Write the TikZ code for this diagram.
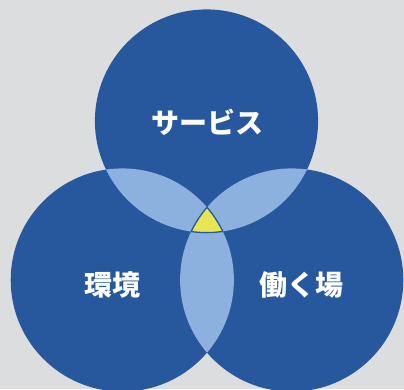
\documentclass[tikz,border=0pt]{standalone}
\usepackage{fontspec}
\newfontfamily\cjkfont{Noto Sans CJK JP}
\definecolor{bgc}{HTML}{DCDDDF}
\definecolor{dblue}{HTML}{27579C}
\definecolor{lblue}{HTML}{8DB1DE}
\definecolor{yel}{HTML}{E6E652}
\tikzset{
  lbl/.style={text=white, font=\cjkfont\bfseries\fontsize{28}{30}\selectfont, inner sep=0pt},
  rim/.style={dblue, line width=1.3}
}
\begin{document}
\begin{tikzpicture}[x=1pt,y=-1pt]
\useasboundingbox (0,0) rectangle (404,389);
\clip (0,0) rectangle (404,389);
\fill[bgc] (0,0) rectangle (404,389);
\coordinate (T) at (206.5,121);
\coordinate (L) at (122.3,280);
\coordinate (R) at (291.7,280);
\def\r{111.6}
% circles
\fill[dblue] (T) circle (\r);
\fill[dblue] (L) circle (\r);
\fill[dblue] (R) circle (\r);
% pairwise overlaps
\begin{scope}
  \clip (T) circle (\r);
  \fill[lblue] (L) circle (\r);
  \fill[lblue] (R) circle (\r);
\end{scope}
\begin{scope}
  \clip (L) circle (\r);
  \fill[lblue] (R) circle (\r);
\end{scope}
% triple overlap
\begin{scope}
  \clip (T) circle (\r);
  \clip (L) circle (\r);
  \fill[yel] (R) circle (\r);
\end{scope}
\begin{scope}
  \clip (T) circle (\r);
  \clip (L) circle (\r);
  \draw[rim] (R) circle (\r);
\end{scope}
\begin{scope}
  \clip (T) circle (\r);
  \clip (R) circle (\r);
  \draw[rim] (L) circle (\r);
\end{scope}
\begin{scope}
  \clip (L) circle (\r);
  \clip (R) circle (\r);
  \draw[rim] (T) circle (\r);
\end{scope}
% labels
\node[lbl] (service) at (207,122) {サービス};
\node[lbl] (env) at (112,285) {環境};
\node[lbl] (work) at (301,285) {働く場};
\end{tikzpicture}
\end{document}
